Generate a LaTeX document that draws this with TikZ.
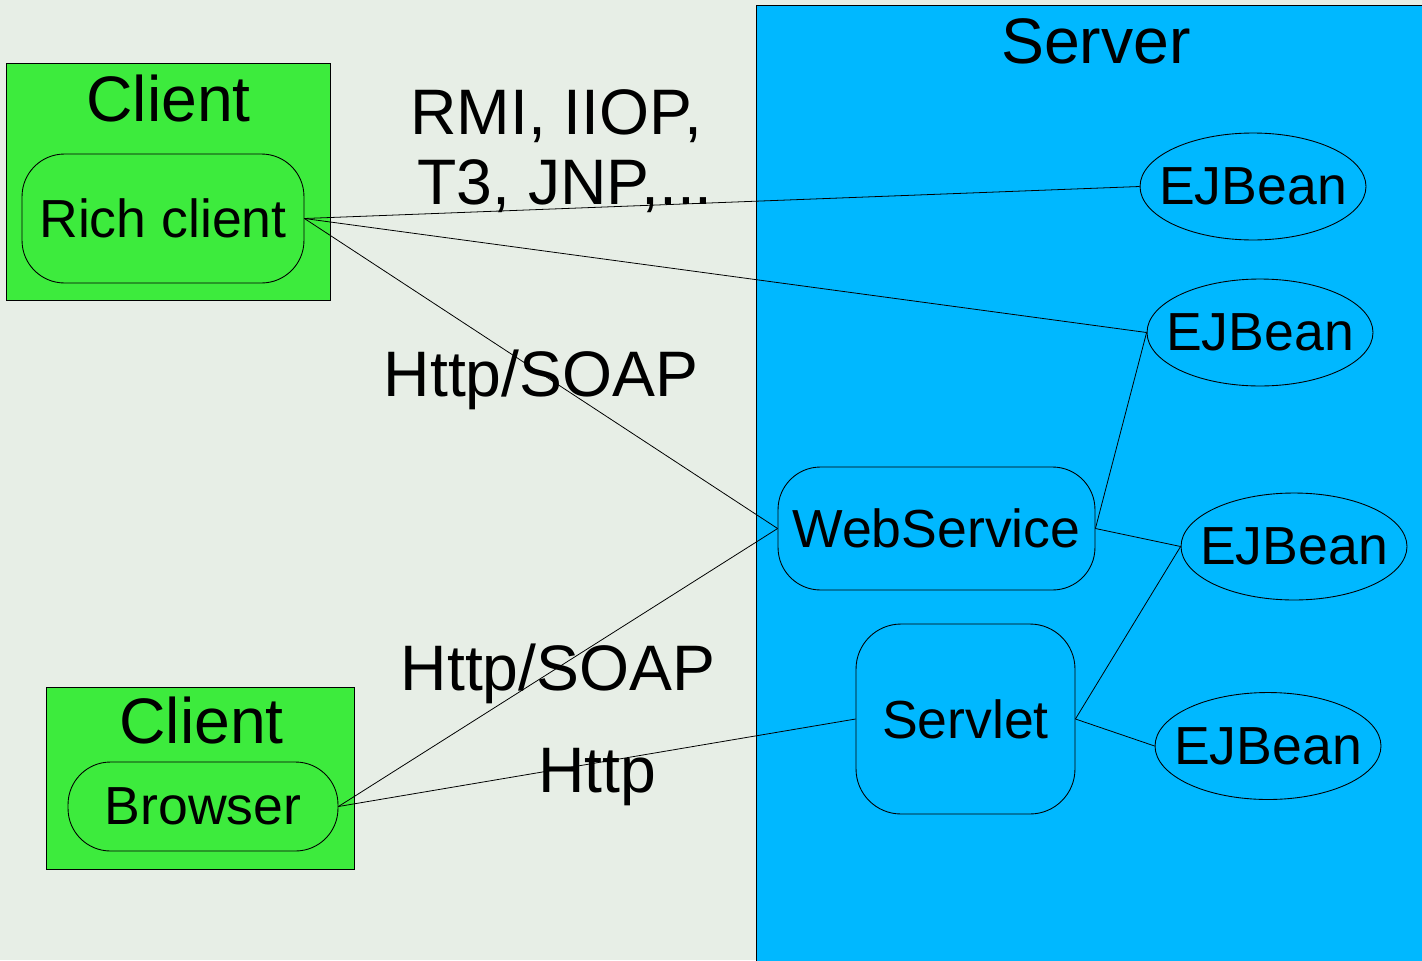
\documentclass[tikz,border=0pt]{standalone}
\usepackage{fontspec}
\setmainfont{Liberation Sans}
\usetikzlibrary{shapes.geometric}
\definecolor{bg}{HTML}{E7EEE6}
\definecolor{clientgreen}{HTML}{3DEB3D}
\definecolor{serverblue}{HTML}{00B8FF}

\begin{document}
\begin{tikzpicture}[x=0.02cm,y=-0.02cm,
  bigtext/.style={font=\fontsize{36.6}{40}\selectfont, inner sep=0, anchor=base},
  midtext/.style={font=\fontsize{30.5}{34}\selectfont},
  box/.style={draw, line width=0.5pt, inner sep=0},
  rbox/.style={box, rounded corners=0.85cm, midtext},
  bean/.style={box, ellipse, fill=serverblue, minimum width=4.52cm, minimum height=2.14cm, midtext},
  link/.style={line width=0.45pt}]

% page and background
\clip (0,0) rectangle (1422,960);
\fill[bg] (0,0) rectangle (1422,960);

% server area
\node[box, fill=serverblue, minimum width=13.68cm, minimum height=19.5cm] (server) at (1098,492.5) {};
\node[bigtext] (servertitle) at (1096,63) {Server};

% rich client
\node[box, fill=clientgreen, minimum width=6.48cm, minimum height=4.74cm] (client1) at (168,181.5) {};
\node[bigtext] (client1title) at (168.5,121) {Client};
\node[rbox, fill=clientgreen, minimum width=5.64cm, minimum height=2.58cm] (rich) at (163,218.5) {Rich client};

% browser client
\node[box, fill=clientgreen, minimum width=6.16cm, minimum height=3.64cm] (client2) at (200,778) {};
\node[bigtext] (client2title) at (201.5,743) {Client};
\node[rbox, fill=clientgreen, minimum width=5.4cm, minimum height=1.78cm] (browser) at (203,806.5) {Browser};

% server components
\node[rbox, fill=serverblue, minimum width=6.34cm, minimum height=2.46cm] (ws) at (936.5,528.5) {WebService};
\node[rbox, fill=serverblue, minimum width=4.38cm, minimum height=3.8cm, rounded corners=0.9cm] (servlet) at (965.5,719) {Servlet};

% beans: the label is boxed at zero width so the ellipse keeps its set size
\node[bean] (b1) at (1253,186.5) {\makebox[0pt]{EJBean}};
\node[bean] (b2) at (1260,332.5) {\makebox[0pt]{EJBean}};
\node[bean] (b3) at (1294,546.5) {\makebox[0pt]{EJBean}};
\node[bean] (b4) at (1268,746) {\makebox[0pt]{EJBean}};

% connections
\draw[link] (rich.east) -- (b1.west);
\draw[link] (rich.east) -- (b2.west);
\draw[link] (rich.east) -- (ws.west);
\draw[link] (browser.east) -- (ws.west);
\draw[link] (browser.east) -- (servlet.west);
\draw[link] (ws.east) -- (b2.west);
\draw[link] (ws.east) -- (b3.west);
\draw[link] (servlet.east) -- (b3.west);
\draw[link] (servlet.east) -- (b4.west);

% protocol labels
\node[bigtext, anchor=base west] (rmi) at (410,134) {RMI, IIOP,};
\node[bigtext, anchor=base west] (t3) at (417,204) {T3, JNP,...};
\node[bigtext] (soap1) at (541,396) {Http/SOAP};
\node[bigtext] (soap2) at (558,690) {Http/SOAP};
\node[bigtext] (http) at (597.5,792) {Http};
\end{tikzpicture}
\end{document}
